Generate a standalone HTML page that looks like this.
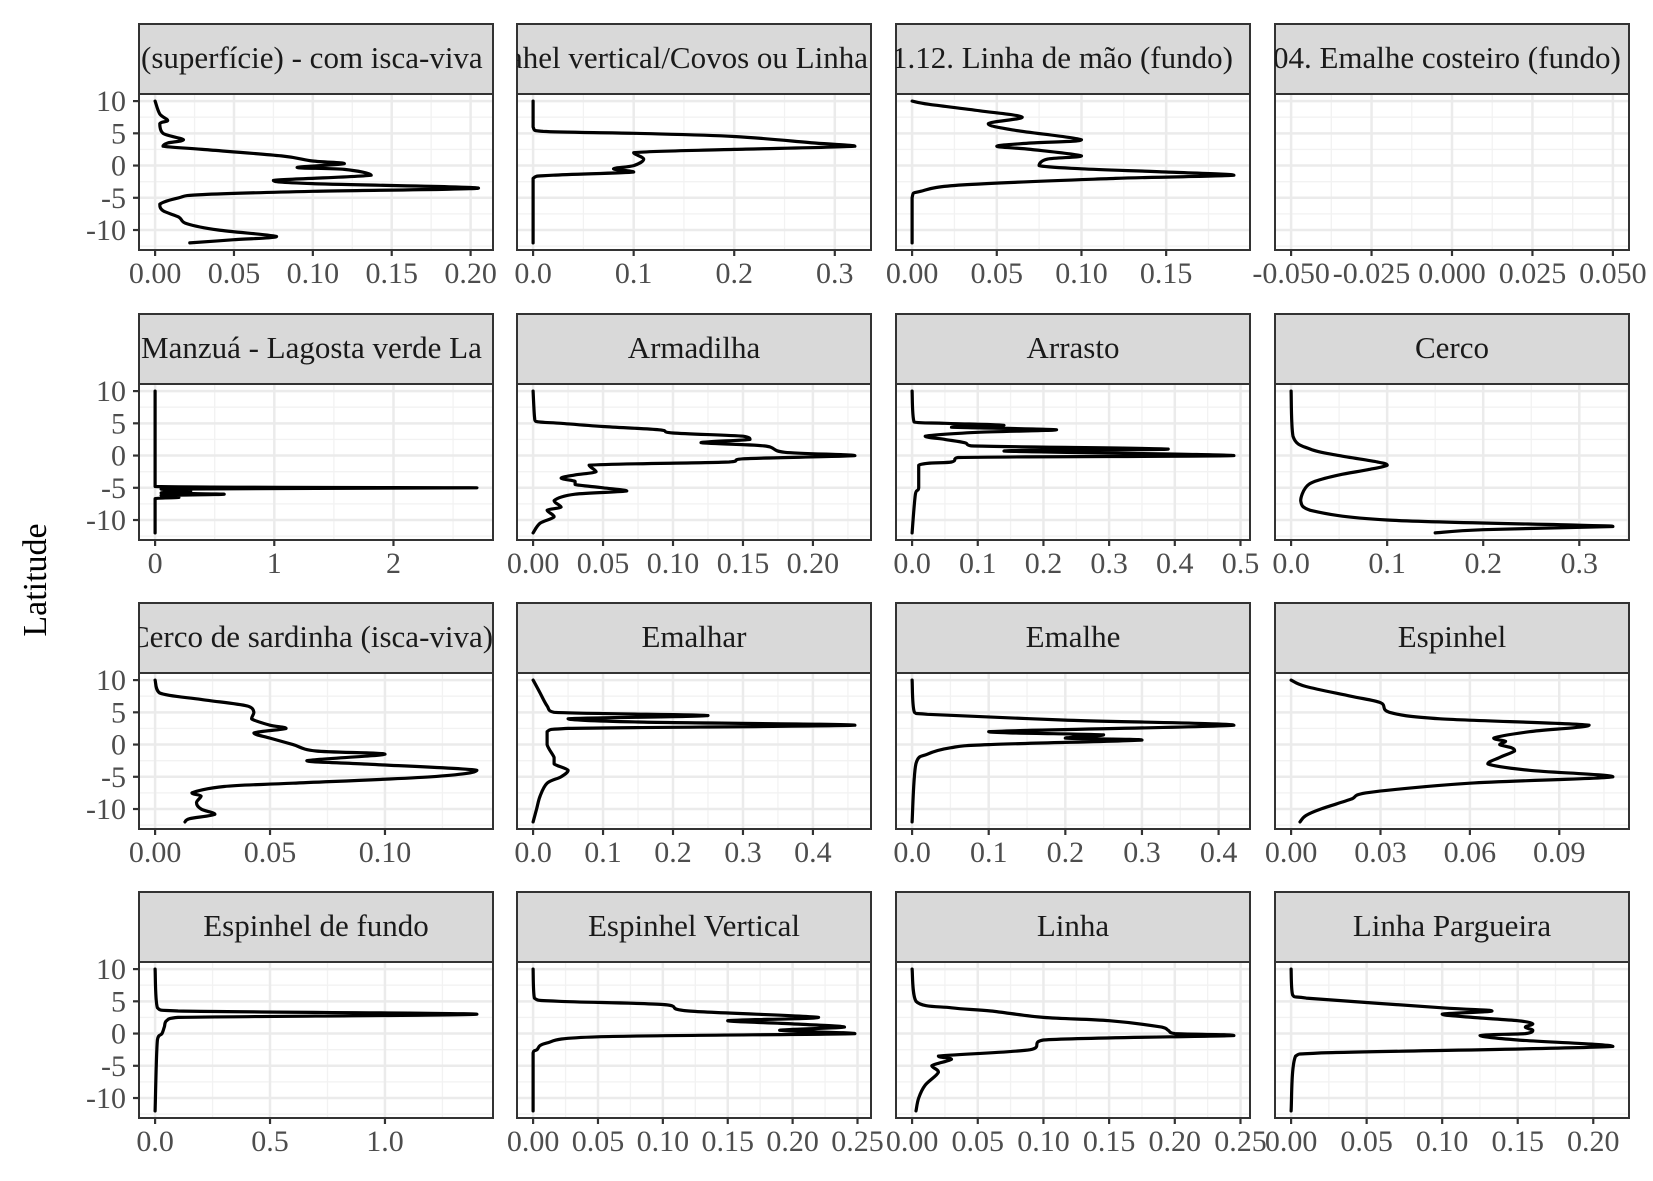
<!DOCTYPE html>
<html><head><meta charset="utf-8"><style>
html,body{margin:0;padding:0;background:#fff;}
svg{display:block;}
text{font-family:"Liberation Serif","DejaVu Serif",serif;}
</style></head><body>
<svg id="s" width="1653" height="1181" xmlns="http://www.w3.org/2000/svg"></svg>
<script>
const P=[
{t:"(superfície) - com isca-viva",al:"l",xm:0.204,ticks:[[0,"0.00"],[0.05,"0.05"],[0.1,"0.10"],[0.15,"0.15"],[0.2,"0.20"]],
 d:[[10,0],[8,.003],[7,.008],[6.5,.003],[5,.005],[4,.018],[3.5,.008],[3,.005],[2.5,.03],[1.5,.08],[.7,.1],[.3,.12],[-.3,.09],[-.6,.12],[-1.5,.137],[-2.3,.075],[-2.8,.1],[-3.5,.205],[-4,.1],[-4.5,.03],[-5,.015],[-6,.003],[-7,.005],[-8,.015],[-9,.02],[-10,.04],[-11,.077],[-11.5,.05],[-12,.022]]},
{t:"ahel vertical/Covos ou Linha",al:"l",off:-8,xm:0.32,ticks:[[0,"0.0"],[0.1,"0.1"],[0.2,"0.2"],[0.3,"0.3"]],
 d:[[10,0],[6,0],[5.3,.01],[5,.1],[4.5,.2],[3.5,.28],[3,.32],[2.5,.2],[2,.1],[1,.11],[0,.1],[-.5,.08],[-1,.1],[-1.5,.02],[-2,0],[-12,0]]},
{t:"1.12. Linha de mão (fundo)",al:"l",off:-4,xm:0.19,ticks:[[0,"0.00"],[0.05,"0.05"],[0.1,"0.10"],[0.15,"0.15"]],
 d:[[10,0],[9.5,.01],[8.5,.04],[7.5,.065],[6.5,.045],[5.5,.06],[4,.1],[3.5,.07],[3,.05],[2.5,.07],[1.5,.1],[1,.08],[0,.075],[-.5,.1],[-1,.15],[-1.5,.19],[-2,.12],[-3,.03],[-4,.005],[-5,0],[-12,0]]},
{t:"04. Emalhe costeiro (fundo)",al:"l",off:-2,xmin:-0.055,xm:0.055,raw:true,ticks:[[-0.05,"-0.050"],[-0.025,"-0.025"],[0,"0.000"],[0.025,"0.025"],[0.05,"0.050"]],d:null},
{t:"Manzuá - Lagosta verde La",al:"l",xm:2.7,ticks:[[0,"0"],[1,"1"],[2,"2"]],
 d:[[10,0],[-4.8,0],[-5,2.7],[-5.2,.05],[-5.5,.3],[-5.8,.05],[-6,.58],[-6.2,.05],[-6.5,.2],[-6.7,0],[-12,0]]},
{t:"Armadilha",xm:0.23,ticks:[[0,"0.00"],[0.05,"0.05"],[0.1,"0.10"],[0.15,"0.15"],[0.2,"0.20"]],
 d:[[10,0],[6,.001],[5.3,.002],[5,.02],[4.5,.05],[4,.09],[3.5,.1],[3,.15],[2.5,.155],[2,.12],[1.5,.165],[.5,.18],[0,.23],[-.5,.15],[-1,.14],[-1.5,.04],[-2.5,.045],[-3,.03],[-3.5,.02],[-4,.03],[-4.5,.03],[-5,.05],[-5.5,.067],[-6,.03],[-7,.015],[-8,.02],[-8.5,.01],[-9.5,.015],[-10.5,.005],[-12,0]]},
{t:"Arrasto",xm:0.49,ticks:[[0,"0.0"],[0.1,"0.1"],[0.2,"0.2"],[0.3,"0.3"],[0.4,"0.4"],[0.5,"0.5"]],
 d:[[10,0],[5.2,.003],[5,.05],[4.7,.14],[4.4,.06],[4,.22],[3.6,.1],[3,.02],[2.5,.05],[2,.08],[1.5,.09],[1,.39],[.7,.14],[0,.49],[-.3,.07],[-1,.06],[-1.5,.01],[-5,.01],[-6,.005],[-12,0]]},
{t:"Cerco",xm:0.335,ticks:[[0,"0.0"],[0.1,"0.1"],[0.2,"0.2"],[0.3,"0.3"]],
 d:[[10,0],[3,.002],[1,.02],[0,.05],[-1,.09],[-1.5,.1],[-2.2,.08],[-3,.05],[-4,.025],[-5,.015],[-7,.01],[-8.5,.02],[-10,.1],[-10.8,.3],[-11,.335],[-11.5,.2],[-12,.15]]},
{t:"Cerco de sardinha (isca-viva)",al:"l",off:-10,xm:0.14,ticks:[[0,"0.00"],[0.05,"0.05"],[0.1,"0.10"]],
 d:[[10,0],[8,.002],[7,.02],[6,.04],[5,.043],[4,.042],[3,.05],[2.5,.057],[1.8,.043],[1,.05],[0,.06],[-1,.07],[-1.5,.1],[-2.5,.066],[-3,.09],[-4,.14],[-5,.12],[-6,.06],[-6.5,.03],[-7.5,.016],[-8,.02],[-9,.018],[-10,.02],[-10.8,.026],[-11.5,.015],[-12,.013]]},
{t:"Emalhar",xm:0.46,ticks:[[0,"0.0"],[0.1,"0.1"],[0.2,"0.2"],[0.3,"0.3"],[0.4,"0.4"]],
 d:[[10,0],[8,.01],[6,.02],[5,.03],[4.5,.25],[4,.05],[3.5,.15],[3,.46],[2.5,.05],[2,.02],[0,.02],[-2,.03],[-3,.03],[-4,.05],[-5,.04],[-6,.02],[-8,.01],[-10,.005],[-12,0]]},
{t:"Emalhe",xm:0.42,ticks:[[0,"0.0"],[0.1,"0.1"],[0.2,"0.2"],[0.3,"0.3"],[0.4,"0.4"]],
 d:[[10,0],[5,.003],[4.7,.02],[3.8,.2],[3,.42],[2,.1],[1.5,.25],[1,.2],[.7,.3],[0,.1],[-.5,.05],[-1.5,.02],[-3,.005],[-12,0]]},
{t:"Espinhel",xm:0.108,ticks:[[0,"0.00"],[0.03,"0.03"],[0.06,"0.06"],[0.09,"0.09"]],
 d:[[10,0],[9,.005],[7.5,.02],[6.5,.03],[5,.033],[4,.05],[3,.1],[2,.08],[1,.068],[.5,.072],[0,.07],[-.5,.074],[-1,.075],[-2,.07],[-3,.066],[-4,.08],[-5,.108],[-6,.06],[-7.5,.025],[-8.5,.02],[-10,.01],[-11,.005],[-12,.003]]},
{t:"Espinhel de fundo",xm:1.4,ticks:[[0,"0.0"],[0.5,"0.5"],[1,"1.0"]],
 d:[[10,0],[4,.01],[3.5,.1],[3,1.4],[2.5,.1],[2,.05],[1,.04],[0,.03],[-1,.01],[-12,0]]},
{t:"Espinhel Vertical",xm:0.248,ticks:[[0,"0.00"],[0.05,"0.05"],[0.1,"0.10"],[0.15,"0.15"],[0.2,"0.20"],[0.25,"0.25"]],
 d:[[10,0],[5.5,.001],[5,.02],[4.5,.1],[3.5,.12],[2.5,.22],[2,.15],[1.5,.2],[1,.24],[.5,.19],[0,.248],[-.5,.05],[-1.5,.01],[-2.5,.003],[-3,0],[-12,0]]},
{t:"Linha",xm:0.245,ticks:[[0,"0.00"],[0.05,"0.05"],[0.1,"0.10"],[0.15,"0.15"],[0.2,"0.20"],[0.25,"0.25"]],
 d:[[10,0],[5,.003],[4,.03],[3.5,.06],[2.5,.1],[2,.15],[1,.19],[.5,.195],[0,.2],[-.3,.245],[-1,.1],[-2.5,.09],[-3.5,.02],[-4,.03],[-5,.015],[-6,.02],[-8,.01],[-10,.005],[-12,.003]]},
{t:"Linha Pargueira",xm:0.213,ticks:[[0,"0.00"],[0.05,"0.05"],[0.1,"0.10"],[0.15,"0.15"],[0.2,"0.20"]],
 d:[[10,0],[6,.001],[5.5,.01],[4,.1],[3.5,.133],[3,.1],[2.5,.12],[2,.15],[1.5,.16],[1,.155],[.5,.16],[0,.155],[-.3,.125],[-1,.15],[-2,.213],[-3,.02],[-3.5,.003],[-12,0]]}
];
const colX=[139,517,896,1275],W=354,rowY=[24,314,603,892],SH=70,PH=156;
let h='';
function yv(lat,top){return top+SH+(11.1-lat)/24.2*PH;}
const cl=(v,a,b)=>Math.max(Math.min(a,b),Math.min(Math.max(a,b),v));
function smooth(pts){
 let s=`M${pts[0][0].toFixed(1)},${pts[0][1].toFixed(1)}`;
 for(let i=0;i<pts.length-1;i++){
  const p0=pts[i-1]||pts[i],p1=pts[i],p2=pts[i+1],p3=pts[i+2]||p2;
  const k=1/6;
  const c1=[cl(p1[0]+(p2[0]-p0[0])*k,p1[0],p2[0]),cl(p1[1]+(p2[1]-p0[1])*k,p1[1],p2[1])];
  const c2=[cl(p2[0]-(p3[0]-p1[0])*k,p1[0],p2[0]),cl(p2[1]-(p3[1]-p1[1])*k,p1[1],p2[1])];
  s+=` C${c1[0].toFixed(1)},${c1[1].toFixed(1)} ${c2[0].toFixed(1)},${c2[1].toFixed(1)} ${p2[0].toFixed(1)},${p2[1].toFixed(1)}`;
 }
 return s;
}
P.forEach((p,i)=>{
 const c=i%4,r=Math.floor(i/4),L=colX[c],T=rowY[r],PT=T+SH;
 const xmin=p.raw?p.xmin:-p.xm*0.05, xmax=p.raw?p.xm:p.xm*1.05;
 const xv=v=>L+(v-xmin)/(xmax-xmin)*W;
 h+=`<rect x="${L}" y="${PT}" width="${W}" height="${PH}" fill="#fff"/>`;
 const tv=p.ticks.map(t=>t[0]),st=tv[1]-tv[0];
 for(let v=tv[0]-st/2;v<=xmax;v+=st){if(v>=xmin)h+=`<line x1="${xv(v)}" x2="${xv(v)}" y1="${PT}" y2="${PT+PH}" stroke="#f2f2f2" stroke-width="1.3"/>`;}
 [-12.5,-7.5,-2.5,2.5,7.5].forEach(v=>{h+=`<line x1="${L}" x2="${L+W}" y1="${yv(v,T)}" y2="${yv(v,T)}" stroke="#f2f2f2" stroke-width="1.3"/>`;});
 tv.forEach(v=>{h+=`<line x1="${xv(v)}" x2="${xv(v)}" y1="${PT}" y2="${PT+PH}" stroke="#ebebeb" stroke-width="2.5"/>`;});
 [-10,-5,0,5,10].forEach(v=>{h+=`<line x1="${L}" x2="${L+W}" y1="${yv(v,T)}" y2="${yv(v,T)}" stroke="#ebebeb" stroke-width="2.5"/>`;});
 if(p.d){const pts=p.d.map(q=>[xv(q[1]),yv(q[0],T)]);h+=`<path fill="none" stroke="#000" stroke-width="3.2" stroke-linejoin="round" stroke-linecap="round" d="${smooth(pts)}"/>`;}
 h+=`<rect x="${L}" y="${PT}" width="${W}" height="${PH}" fill="none" stroke="#333" stroke-width="2"/>`;
 h+=`<clipPath id="c${i}"><rect x="${L}" y="${T}" width="${W}" height="${SH}"/></clipPath>`;
 h+=`<rect x="${L}" y="${T}" width="${W}" height="${SH}" fill="#d9d9d9" stroke="#333" stroke-width="2"/>`;
 if(p.al==='l') h+=`<text clip-path="url(#c${i})" x="${L+(p.off||2)}" y="${T+44}" font-size="31" fill="#1a1a1a">${p.t}</text>`;
 else h+=`<text x="${L+W/2}" y="${T+44}" font-size="31" fill="#1a1a1a" text-anchor="middle">${p.t}</text>`;
 p.ticks.forEach(t=>{const x=xv(t[0]);h+=`<line x1="${x}" x2="${x}" y1="${PT+PH}" y2="${PT+PH+6}" stroke="#333" stroke-width="2.2"/><text x="${x}" y="${PT+PH+33}" font-size="30" fill="#4d4d4d" text-anchor="middle">${t[1]}</text>`;});
 if(c===0){[-10,-5,0,5,10].forEach(v=>{const y=yv(v,T);h+=`<line x1="${L-6}" x2="${L}" y1="${y}" y2="${y}" stroke="#333" stroke-width="2.2"/><text x="${L-13}" y="${y+10}" font-size="30" fill="#4d4d4d" text-anchor="end">${v}</text>`;});}
});
h+=`<text transform="translate(46,580) rotate(-90)" font-size="34" fill="#000" text-anchor="middle">Latitude</text>`;
document.getElementById('s').innerHTML=h;
</script>
</body></html>
